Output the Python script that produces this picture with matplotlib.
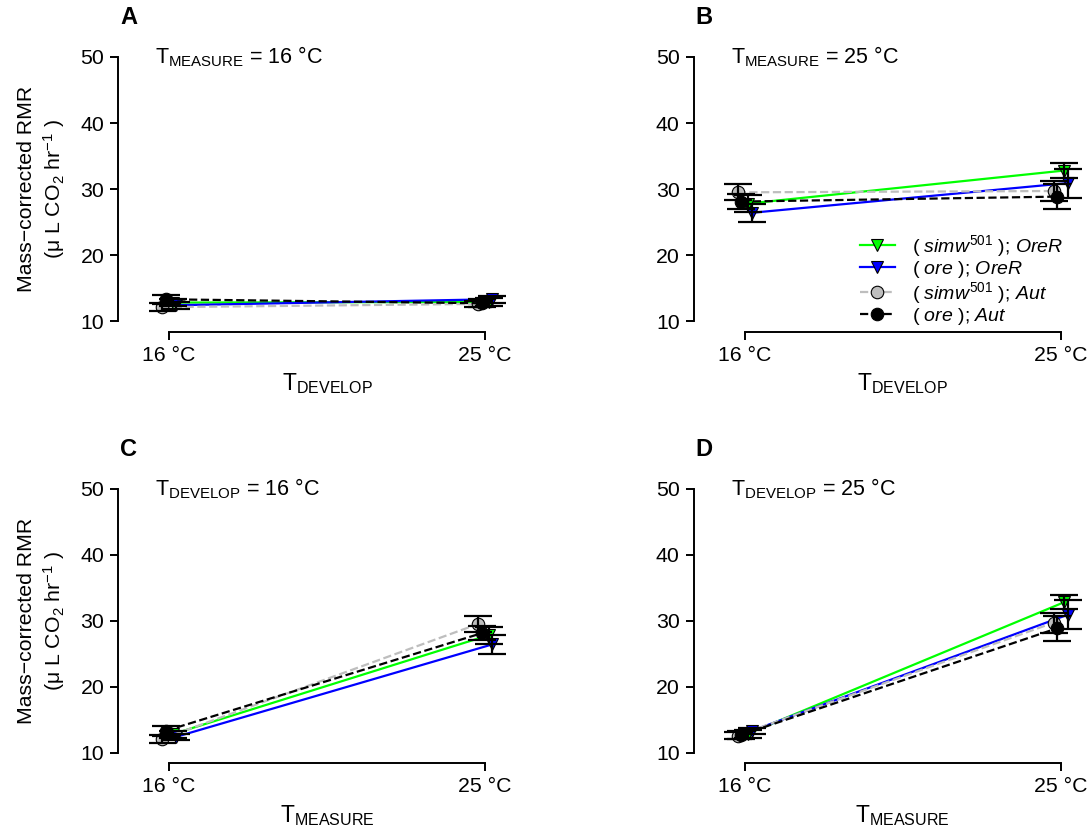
import numpy as np
import matplotlib.pyplot as plt

# fonts: Arial-like look of R base graphics
plt.rcParams['font.family'] = ['Liberation Sans', 'DejaVu Sans']
plt.rcParams['mathtext.fontset'] = 'custom'
plt.rcParams['mathtext.rm'] = 'Liberation Sans'
plt.rcParams['mathtext.it'] = 'Liberation Sans:italic'
plt.rcParams['mathtext.bf'] = 'Liberation Sans:bold'
plt.rcParams['axes.linewidth'] = 1.4
plt.rcParams['xtick.major.width'] = 1.4
plt.rcParams['ytick.major.width'] = 1.4
plt.rcParams['xtick.major.size'] = 6
plt.rcParams['ytick.major.size'] = 6
plt.rcParams['xtick.labelsize'] = 15.3
plt.rcParams['ytick.labelsize'] = 15.3

temps = [16, 25]
temp_labels = ['16 °C', '25 °C']

# mass-corrected RMR, rows = T_develop (16, 25), cols = T_measure (16, 25)
simw_orer_mean = np.array([[12.8, 27.8], [12.9, 32.8]])
simw_orer_se = np.array([[0.5, 1.3], [0.6, 1.1]])
ore_orer_mean = np.array([[12.4, 26.4], [13.3, 30.9]])
ore_orer_se = np.array([[0.5, 1.4], [0.5, 2.2]])
simw_aut_mean = np.array([[12.1, 29.5], [12.6, 29.7]])
simw_aut_se = np.array([[0.6, 1.2], [0.5, 1.5]])
ore_aut_mean = np.array([[13.3, 28.1], [12.7, 28.85]])
ore_aut_se = np.array([[0.7, 1.1], [0.6, 1.9]])

groups = [
    # label, mean, se, color, marker, linestyle, x offset
    (r'( $\mathit{simw}^{501}$ ); $\mathit{OreR}$', simw_orer_mean, simw_orer_se, '#00FF00', 'v', '-', 0.1),
    (r'( $\mathit{ore}$ ); $\mathit{OreR}$', ore_orer_mean, ore_orer_se, '#0000FF', 'v', '-', 0.2),
    (r'( $\mathit{simw}^{501}$ ); $\mathit{Aut}$', simw_aut_mean, simw_aut_se, '#BEBEBE', 'o', '--', -0.2),
    (r'( $\mathit{ore}$ ); $\mathit{Aut}$', ore_aut_mean, ore_aut_se, 'black', 'o', '--', -0.1),
]

# panel: letter, fixed factor, index, x label, title
panels = [
    ('A', 'measure', 0, r'T$_{\mathrm{DEVELOP}}$', r'T$_{\mathrm{MEASURE}}$ = 16 °C'),
    ('B', 'measure', 1, r'T$_{\mathrm{DEVELOP}}$', r'T$_{\mathrm{MEASURE}}$ = 25 °C'),
    ('C', 'develop', 0, r'T$_{\mathrm{MEASURE}}$', r'T$_{\mathrm{DEVELOP}}$ = 16 °C'),
    ('D', 'develop', 1, r'T$_{\mathrm{MEASURE}}$', r'T$_{\mathrm{DEVELOP}}$ = 25 °C'),
]
positions = [[0.1365, 0.6014, 0.3277, 0.3428], [0.665, 0.6014, 0.3277, 0.3428],
             [0.1365, 0.0826, 0.3277, 0.3428], [0.665, 0.0826, 0.3277, 0.3428]]

fig = plt.figure(figsize=(10.89, 8.32), dpi=100)

for (letter, fixed, idx, xlab, title), pos in zip(panels, positions):
    ax = fig.add_axes(pos)
    for lbl, m, se, col, mk, ls, off in groups:
        if fixed == 'measure':
            y, e = m[:, idx], se[:, idx]
        else:
            y, e = m[idx, :], se[idx, :]
        x = np.array(temps) + off
        ax.plot(x, y, linestyle=ls, color=col, lw=1.6, zorder=2, label=lbl,
                marker=mk, markersize=9, markerfacecolor=col, markeredgecolor='black',
                markeredgewidth=0.8)
        ax.errorbar(x, y, yerr=e, fmt='none', ecolor='black', elinewidth=1.6,
                    capsize=10, capthick=1.6, zorder=3)
    ax.set_xlim(15.42, 25.58)
    ax.set_ylim(8.4, 51.6)
    ax.set_xticks(temps)
    ax.set_xticklabels(temp_labels)
    ax.set_yticks([10, 20, 30, 40, 50])
    ax.spines['top'].set_visible(False)
    ax.spines['right'].set_visible(False)
    ax.spines['left'].set_position(('outward', 22))
    ax.spines['left'].set_bounds(10, 50)
    ax.spines['bottom'].set_bounds(16, 25)
    ax.tick_params(axis='both', pad=4)
    ax.set_xlabel(xlab, fontsize=16.5, labelpad=5)
    ax.text(15.6, 50, title, fontsize=15.5, ha='left', va='center')
    ax.text(-0.08, 1.10, letter, transform=ax.transAxes, fontsize=17,
            fontweight='bold', ha='left', va='center')
    if letter in ('A', 'C'):
        ax.set_ylabel('Mass−corrected RMR\n(μ L CO$_2$ hr$^{-1}$ )', fontsize=15.3,
                      labelpad=10, linespacing=1.25)
    if letter == 'B':
        ax.legend(loc='upper left', bbox_to_anchor=(0.38, 0.345), frameon=False,
                  fontsize=14, handlelength=1.8, handletextpad=0.9,
                  labelspacing=0.0, borderpad=0, borderaxespad=0, numpoints=1)

plt.savefig('out.png', dpi=100)
